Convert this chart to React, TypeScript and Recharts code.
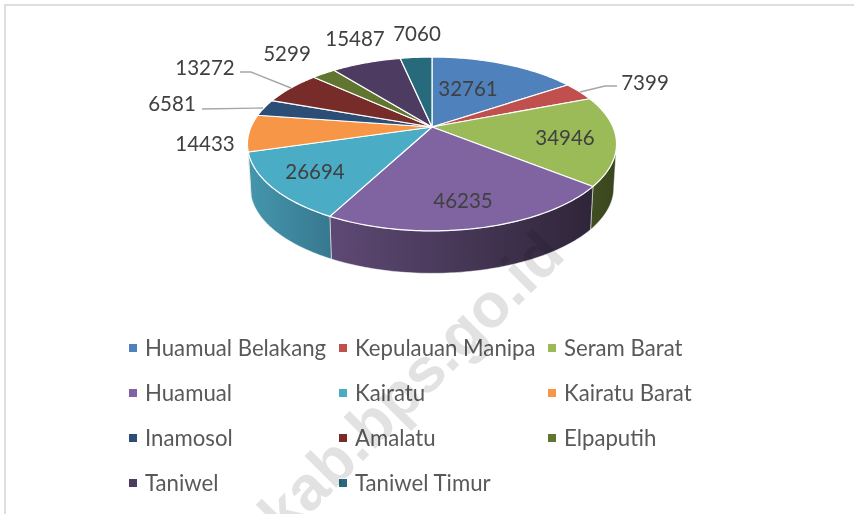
import { Cell, Legend, Pie, PieChart } from 'recharts'

const districts = [
  'Huamual Belakang',
  'Kepulauan Manipa',
  'Seram Barat',
  'Huamual',
  'Kairatu',
  'Kairatu Barat',
  'Inamosol',
  'Amalatu',
  'Elpaputih',
  'Taniwel',
  'Taniwel Timur',
]
const population = [32761, 7399, 34946, 46235, 26694, 14433, 6581, 13272, 5299, 15487, 7060]
const sliceColors = [
  '#4f81bd', '#c0504d', '#9bbb59', '#8064a2', '#4bacc6', '#f79646',
  '#2c4d75', '#772c2a', '#5f7530', '#4d3b62', '#276a7c',
]

// hand placed, excel moved these labels around so they don't follow the radius
const labelCenters: [number, number][] = [
  [468, 88], [645, 82], [565, 137], [463, 200], [315, 171], [205, 143],
  [172, 103], [205, 67], [287, 53], [355, 38], [417, 33],
]
const leaderLines: Record<number, string> = {
  1: '580,92 605,86 617,86',
  6: '202,109 263,108',
  7: '240,72 251,72 291,88',
}

const rows = districts.map((name, i) => ({ name, value: population[i], fill: sliceColors[i] }))

const CX = 432
const CY = 127
const RADIUS = 181
const SQUASH = 0.462
const PERSPECTIVE = 0.195
const DEPTH = 44
const BOTTOM_SCALE = 0.985
// angles (clockwise from the top) where the rim turns away from the viewer
const RIM_START = 101.2
const RIM_END = 258.8

const sideGradients: Record<number, [string, string]> = {
  2: ['#414e22', '#39451d'],
  3: ['#5e4974', '#2f2539'],
  4: ['#4596ad', '#37788f'],
  5: ['#a8642c', '#a8642c'],
}

function project(clockDeg: number, cx: number, cy: number, r: number) {
  const t = (clockDeg * Math.PI) / 180
  const d = 1 + PERSPECTIVE * Math.cos(t)
  return { x: cx + (r * Math.sin(t)) / d, y: cy - (r * SQUASH * Math.cos(t)) / d }
}

function arcPoints(from: number, to: number, cx: number, cy: number, r: number) {
  const steps = Math.max(2, Math.ceil(Math.abs(to - from)))
  const pts = []
  for (let i = 0; i <= steps; i++) pts.push(project(from + ((to - from) * i) / steps, cx, cy, r))
  return pts
}

const toPath = (pts: { x: number; y: number }[]) =>
  pts.map((p, i) => `${i ? 'L' : 'M'}${p.x.toFixed(2)} ${p.y.toFixed(2)}`).join(' ')

function TopSlice(props: any) {
  const { cx, cy, outerRadius, startAngle, endAngle, fill } = props
  const arc = arcPoints(90 - startAngle, 90 - endAngle, cx, cy, outerRadius)
  return <path d={`M${cx} ${cy} ${toPath(arc).replace('M', 'L')} Z`} fill={fill} stroke="#fff" strokeWidth={1.2} strokeLinejoin="round" />
}

function SideSlice(props: any) {
  const { cx, cy, outerRadius, startAngle, endAngle, index } = props
  const from = Math.max(90 - startAngle, RIM_START)
  const to = Math.min(90 - endAngle, RIM_END)
  if (to <= from) return null
  const top = arcPoints(from, to, cx, cy, outerRadius)
  const bottom = top
    .map((p) => ({ x: cx + (p.x - cx) * BOTTOM_SCALE, y: cy + (p.y - cy) * BOTTOM_SCALE + DEPTH }))
    .reverse()
  return <path d={`${toPath(top)} ${toPath(bottom).replace('M', 'L')} Z`} fill={`url(#side-${index})`} stroke="#fff" strokeWidth={0.5} />
}

function SliceLabel(props: any) {
  const { index, value } = props
  const [x, y] = labelCenters[index]
  return (
    <g>
      {leaderLines[index] && <polyline points={leaderLines[index]} fill="none" stroke="#a6a6a6" strokeWidth={1.4} />}
      <text x={x} y={y} textAnchor="middle" dominantBaseline="central" fill="#404040" fontSize={20.5} fontFamily="Lato">
        {value}
      </text>
    </g>
  )
}

function LegendGrid({ payload }: any) {
  const items = (payload ?? []).filter((item: any) => item.type !== 'none')
  return (
    <div
      style={{
        position: 'absolute',
        left: 129,
        top: 325,
        display: 'grid',
        gridTemplateColumns: '210px 209px 200px',
        gridAutoRows: 45,
        fontFamily: 'Lato',
        fontSize: 22.2,
        color: '#595959',
      }}
    >
      {items.map((item: any) => (
        <div key={item.value} style={{ display: 'flex', alignItems: 'center', whiteSpace: 'nowrap' }}>
          <span style={{ width: 8, height: 8, background: item.color, marginRight: 8, flex: 'none' }} />
          {item.value}
        </div>
      ))}
    </div>
  )
}

export default function App() {
  return (
    <div style={{ position: 'absolute', left: 0, top: 0, width: 854, height: 514, overflow: 'hidden', background: '#fff' }}>
      <div style={{ position: 'absolute', left: 4, top: 4, right: 0, height: 2, background: '#dedede' }} />
      <div style={{ position: 'absolute', left: 4, top: 4, bottom: 0, width: 2, background: '#dedede' }} />
      <PieChart width={854} height={514} margin={{ top: 0, right: 0, bottom: 0, left: 0 }}>
        <defs>
          {Object.entries(sideGradients).map(([i, [a, b]]) => (
            <linearGradient key={i} id={`side-${i}`} x1="0" y1="0" x2="1" y2="0">
              <stop offset="0%" stopColor={a} />
              <stop offset="100%" stopColor={b} />
            </linearGradient>
          ))}
        </defs>
        <Pie
          data={rows}
          dataKey="value"
          nameKey="name"
          cx={CX}
          cy={CY}
          outerRadius={RADIUS}
          startAngle={90}
          endAngle={-270}
          stroke="none"
          legendType="none"
          shape={SideSlice}
          label={false}
          isAnimationActive={false}
        />
        <Pie
          data={rows}
          dataKey="value"
          nameKey="name"
          cx={CX}
          cy={CY}
          outerRadius={RADIUS}
          startAngle={90}
          endAngle={-270}
          shape={TopSlice}
          label={SliceLabel}
          labelLine={false}
          isAnimationActive={false}
        >
          {rows.map((r) => (
            <Cell key={r.name} fill={r.fill} />
          ))}
        </Pie>
        <Legend content={<LegendGrid />} itemSorter={null} wrapperStyle={{ left: 0, top: 0, bottom: 'auto', width: 854 }} />
      </PieChart>
      <svg width={854} height={514} style={{ position: 'absolute', left: 0, top: 0, mixBlendMode: 'multiply', pointerEvents: 'none' }}>
        <text
          x={567}
          y={257}
          transform="rotate(-45 567 257)"
          textAnchor="end"
          fontFamily="Liberation Sans"
          fontWeight={700}
          fontSize={62}
          fill="#e2e2e2"
        >
          kab.bps.go.id
        </text>
      </svg>
    </div>
  )
}
